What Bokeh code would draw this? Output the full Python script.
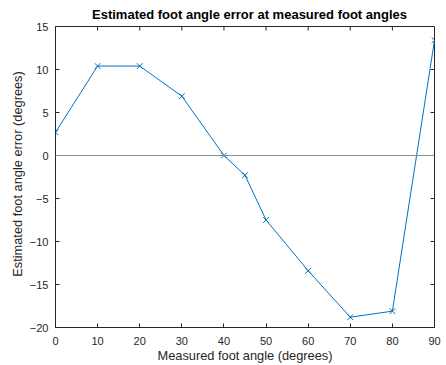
from bokeh.plotting import figure
from bokeh.models import Range1d, Span, FixedTicker, Title
from bokeh.embed import file_html
from bokeh.resources import INLINE

# Data
measured_angle = [0, 10, 20, 30, 40, 45, 50, 60, 70, 80, 90]
angle_error = [2.7, 10.4, 10.4, 6.9, 0.0, -2.3, -7.5, -13.4, -18.8, -18.1, 13.4]
x_ticks = [0, 10, 20, 30, 40, 50, 60, 70, 80, 90]
y_ticks = [-20, -15, -10, -5, 0, 5, 10, 15]
x_lim = (0, 90)
y_lim = (-20, 15)
zero_ref = 0
title_text = "Estimated foot angle error at measured foot angles"
x_label = "Measured foot angle (degrees)"
y_label = "Estimated foot angle error (degrees)"

AX = "#262626"
FONT = "Liberation Sans"
FW, FH = 379, 301
TICK = 4

p = figure(frame_width=FW, frame_height=FH, output_backend="svg", toolbar_location=None,
           x_range=Range1d(*x_lim), y_range=Range1d(*y_lim),
           min_border_left=47, min_border_right=7, min_border_top=20, min_border_bottom=34,
           title=title_text)
p.title.align = "center"
p.title.text_font = FONT
p.title.text_font_size = "13px"
p.title.text_font_style = "bold"
p.title.text_color = "#000000"
p.title.standoff = 9
p.title.padding = (9, 0, 0, 0)

p.grid.visible = False
p.outline_line_color = AX
p.outline_line_width = 1
p.background_fill_color = "white"
p.border_fill_color = "white"

for ax, ticks in ((p.xaxis[0], x_ticks), (p.yaxis[0], y_ticks)):
    ax.ticker = FixedTicker(ticks=ticks)
    ax.axis_line_color = AX
    ax.major_tick_line_color = AX
    ax.major_tick_in = TICK
    ax.major_tick_out = 0
    ax.minor_tick_line_color = None
    ax.major_label_text_font = FONT
    ax.major_label_text_color = AX
    ax.major_label_text_font_size = "11px"
    ax.axis_label_text_font = FONT
    ax.axis_label_text_font_size = "12.8px"
    ax.axis_label_text_font_style = "normal"
    ax.axis_label_text_color = AX
p.xaxis[0].major_label_standoff = 9
p.xaxis[0].axis_label_standoff = 0
p.yaxis[0].major_label_standoff = 7
p.xaxis.axis_label = x_label

# y-axis label as a side title so its outer spacing can be set
ylab = Title(text=y_label, align="center", text_font=FONT, text_font_size="12.8px",
             text_font_style="normal", text_color=AX, standoff=3, padding=(6, 0, 0, 0))
p.add_layout(ylab, "left")

# Box ticks on the top and right edges (MATLAB "box on")
dy = TICK * (y_lim[1] - y_lim[0]) / FH
dx = TICK * (x_lim[1] - x_lim[0]) / FW
p.segment(x0=x_ticks, x1=x_ticks, y0=[y_lim[1]] * len(x_ticks), y1=[y_lim[1] - dy] * len(x_ticks),
          line_color=AX, line_width=1)
p.segment(x0=[x_lim[1]] * len(y_ticks), x1=[x_lim[1] - dx] * len(y_ticks), y0=y_ticks, y1=y_ticks,
          line_color=AX, line_width=1)

p.add_layout(Span(location=zero_ref, dimension="width", line_color="#8c8c8c", line_width=1))

p.line(measured_angle, angle_error, line_color="#0072BD", line_width=1)
p.scatter(measured_angle, angle_error, marker="x", size=8, line_color="#0072BD", line_width=1)

open("out.html", "w").write(file_html(p, INLINE))
